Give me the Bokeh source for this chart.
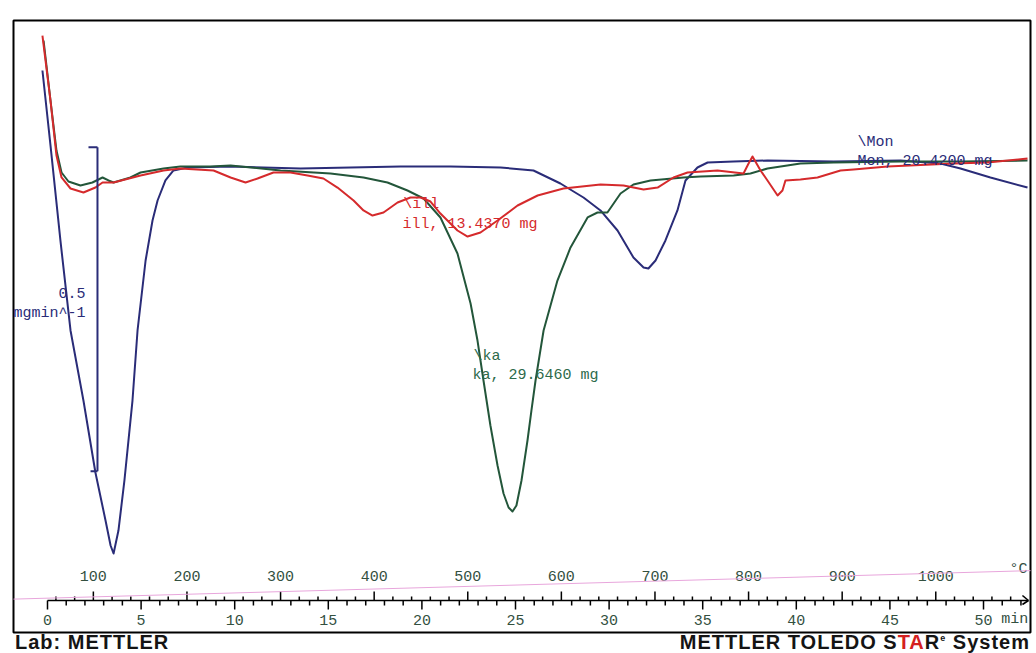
from bokeh.plotting import figure
from bokeh.models import Range1d, Slope, Div
from bokeh.layouts import column
from bokeh.embed import file_html
from bokeh.resources import INLINE
from bokeh.core.properties import value

# ---------------- data (time in min, DTG in mg/min) ----------------
mon_t = [-0.27, 0.16, 0.69, 1.23, 1.92, 2.56, 3.10, 3.37, 3.53, 3.79, 4.11, 4.54, 4.81,
         5.24, 5.61, 5.88, 6.30, 6.73, 7.48, 9.78, 13.51, 18.86, 21.53, 24.20, 25.96,
         27.40, 28.63, 29.54, 30.45, 31.30, 31.84, 32.10, 32.48, 33.01, 33.65, 34.08,
         34.72, 35.26, 36.65, 38.46, 41.99, 45.57, 47.70, 48.77, 50.37, 52.35]
mon_dtg = [0.1466, 0.0309, -0.1157, -0.2546, -0.3627, -0.4738, -0.5478, -0.5864, -0.5988,
           -0.5633, -0.4861, -0.3627, -0.2546, -0.1466, -0.0849, -0.0540, -0.0231, -0.0077,
           -0.0031, -0.0015, -0.0046, -0.0015, -0.0015, -0.0031, -0.0077, -0.0278, -0.0494,
           -0.0694, -0.1003, -0.1420, -0.1574, -0.1590, -0.1466, -0.1157, -0.0694, -0.0231,
           -0.0031, 0.0046, 0.0062, 0.0077, 0.0062, 0.0077, 0.0031, -0.0046, -0.0185, -0.0340]

ka_t = [-0.21, 0.16, 0.48, 0.75, 1.12, 1.76, 2.40, 2.94, 3.26, 3.53, 4.43, 4.97, 6.20,
        7.10, 8.71, 9.78, 12.45, 15.12, 16.88, 18.16, 19.23, 20.09, 20.99, 21.90, 22.60,
        22.97, 23.29, 23.66, 24.04, 24.36, 24.63, 24.84, 25.05, 25.32, 25.64, 25.85, 26.07,
        26.50, 27.24, 27.94, 28.85, 29.38, 29.91, 30.61, 31.30, 32.21, 33.97, 34.88, 36.65,
        37.55, 38.46, 40.22, 41.99, 45.57, 48.77, 52.35]
ka_dtg = [0.1929, 0.1003, 0.0231, -0.0108, -0.0247, -0.0309, -0.0262, -0.0185, -0.0231,
          -0.0262, -0.0185, -0.0108, -0.0046, -0.0015, -0.0015, 0.0000, -0.0077, -0.0123,
          -0.0185, -0.0262, -0.0386, -0.0509, -0.0802, -0.1358, -0.2130, -0.2701, -0.3318,
          -0.4012, -0.4630, -0.5062, -0.5278, -0.5340, -0.5247, -0.4861, -0.4244, -0.3781,
          -0.3318, -0.2546, -0.1775, -0.1265, -0.0802, -0.0725, -0.0725, -0.0432, -0.0293,
          -0.0231, -0.0185, -0.0170, -0.0154, -0.0123, -0.0046, 0.0031, 0.0046, 0.0062,
          0.0062, 0.0077]

ill_t = [-0.27, 0.16, 0.48, 0.75, 1.23, 1.92, 2.56, 2.94, 3.53, 4.97, 6.20, 7.10, 8.87,
         9.78, 10.58, 11.22, 12.07, 12.98, 13.89, 14.74, 15.49, 16.35, 16.88, 17.36, 17.95,
         18.70, 19.39, 19.93, 20.46, 20.99, 21.90, 22.44, 23.13, 24.04, 25.11, 26.18, 27.56,
         29.54, 30.77, 31.84, 32.59, 33.44, 34.19, 35.79, 37.18, 37.45, 37.66, 38.09, 38.46,
         39.00, 39.26, 39.42, 40.22, 41.13, 42.36, 43.06, 44.87, 48.40, 50.21, 52.35]
ill_dtg = [0.2006, 0.1003, 0.0154, -0.0185, -0.0355, -0.0417, -0.0340, -0.0262, -0.0262,
           -0.0154, -0.0077, -0.0046, -0.0077, -0.0185, -0.0262, -0.0201, -0.0108, -0.0108,
           -0.0154, -0.0201, -0.0340, -0.0540, -0.0694, -0.0772, -0.0725, -0.0571, -0.0494,
           -0.0494, -0.0556, -0.0741, -0.1003, -0.1096, -0.1034, -0.0849, -0.0617, -0.0463,
           -0.0355, -0.0293, -0.0309, -0.0370, -0.0340, -0.0185, -0.0108, -0.0077, -0.0123,
           0.0031, 0.0139, -0.0077, -0.0231, -0.0463, -0.0386, -0.0231, -0.0216, -0.0185,
           -0.0077, -0.0062, -0.0015, 0.0031, 0.0046, 0.0108]

# curve labels
label_names = ["\\Mon", "Mon, 20.4200 mg", "\\ill", "ill, 13.4370 mg", "\\ka", "ka, 29.6460 mg"]
label_t = [43.27, 43.27, 19.01, 18.96, 22.76, 22.70]
label_y = [0.0355, 0.0062, -0.0602, -0.0910, -0.2948, -0.3241]

# axes: time (min) and furnace temperature (deg C)
min_labels = [0, 5, 10, 15, 20, 25, 30, 35, 40, 45, 50]
temp_labels = [100, 200, 300, 400, 500, 600, 700, 800, 900, 1000]
T_START = 51.0     # deg C at t = 0
HEAT_RATE = 20.0   # K/min
T_END = 52.4       # end of time axis, min

# scale bar
SCALE_VALUE = 0.5          # mg/min
SCALE_TOP = 0.028
SCALE_T = 2.67

# ---------------- style ----------------
NAVY = "#2a2c78"
GREEN = "#23563a"
RED = "#d52a2c"
AXTXT = "#33503f"
MONO = value("Liberation Mono")
PX = 1 / 648.0             # mg/min per screen pixel
AXIS_Y = -0.6713

p = figure(width=1036, height=634, x_range=Range1d(-1.816, 52.51),
           y_range=Range1d(-0.72068, 0.22377), output_backend="svg",
           toolbar_location=None, x_axis_type=None, y_axis_type=None,
           min_border_left=13, min_border_right=6, min_border_top=20, min_border_bottom=2)
p.grid.visible = False
p.outline_line_color = "black"
p.outline_line_width = 2
p.background_fill_color = "white"
p.border_fill_color = "white"

# scanning stripe (faint pink)
p.add_layout(Slope(gradient=0.000809, y_intercept=-0.6677, line_color="#e8a6dc", line_width=1))

# curves
p.line(mon_t, mon_dtg, line_color=NAVY, line_width=2, line_join="round")
p.line(ka_t, ka_dtg, line_color=GREEN, line_width=2, line_join="round")
p.line(ill_t, ill_dtg, line_color=RED, line_width=2, line_join="round")

lab_colors = [NAVY, NAVY, RED, RED, "#2d6a4a", "#2d6a4a"]
p.text(x=label_t, y=label_y, text=label_names, text_font=MONO, text_font_size="15px",
       text_color=lab_colors, text_baseline="alphabetic", text_align="left")

# scale bar
sb_bot = SCALE_TOP - SCALE_VALUE
p.segment(x0=[SCALE_T, SCALE_T - 0.48, SCALE_T - 0.37], y0=[SCALE_TOP, SCALE_TOP, sb_bot],
          x1=[SCALE_T, SCALE_T, SCALE_T], y1=[sb_bot, SCALE_TOP, sb_bot],
          line_color=NAVY, line_width=2)
p.text(x=[2.03, 2.03], y=[-0.1975, -0.2284], text=[str(SCALE_VALUE), "mgmin^-1"],
       text_font=MONO, text_font_size="15px", text_color=NAVY,
       text_align="right", text_baseline="alphabetic")

# time axis line with arrow head
p.segment(x0=[0, T_END - 0.32, T_END - 0.32], y0=[AXIS_Y, AXIS_Y + 5 * PX, AXIS_Y - 4 * PX],
          x1=[T_END, T_END, T_END], y1=[AXIS_Y, AXIS_Y, AXIS_Y],
          line_color="black", line_width=1.6)

# minute ticks (down)
mt = list(range(0, 53))
p.segment(x0=mt, x1=mt, y0=[AXIS_Y] * len(mt),
          y1=[AXIS_Y - (9 if m % 5 == 0 else 5) * PX for m in mt],
          line_color="black", line_width=1.5)
p.text(x=min_labels, y=[AXIS_Y - 19 * PX] * len(min_labels), text=[str(m) for m in min_labels],
       text_font=MONO, text_font_size="15px", text_color=AXTXT,
       text_align="center", text_baseline="middle")
p.text(x=[50.95], y=[AXIS_Y - 19 * PX], text=["min"], text_font=MONO, text_font_size="15px",
       text_color=AXTXT, text_align="left", text_baseline="middle")

# temperature ticks (up)
tt = list(range(60, 1081, 20))
tt_t = [(T - T_START) / HEAT_RATE for T in tt]
p.segment(x0=tt_t, x1=tt_t, y0=[AXIS_Y] * len(tt),
          y1=[AXIS_Y + (9 if T % 100 == 0 else 4) * PX for T in tt],
          line_color="black", line_width=1.5)
p.text(x=[(T - T_START) / HEAT_RATE for T in temp_labels], y=[AXIS_Y + 25 * PX] * len(temp_labels),
       text=[str(T) for T in temp_labels], text_font=MONO, text_font_size="15px",
       text_color=AXTXT, text_align="center", text_baseline="middle")
p.text(x=[52.35], y=[AXIS_Y + 31 * PX], text=["\u00b0C"], text_font=MONO, text_font_size="15px",
       text_color=AXTXT, text_align="right", text_baseline="middle")

footer = Div(text=(
    '<div style="display:flex;justify-content:space-between;box-sizing:border-box;width:1036px;'
    'height:19px;padding:0 6px 0 15px;font-family:\'Liberation Sans\',Arial,sans-serif;'
    'font-weight:bold;font-size:20px;line-height:16px;color:#141414;white-space:nowrap;">'
    '<span style="letter-spacing:1px;">Lab: METTLER</span>'
    '<span style="letter-spacing:1px;">METTLER TOLEDO S<span style="color:#d42020;">TA</span>R'
    '<span style="font-size:9px;vertical-align:8px;line-height:0;">e</span> System</span></div>'),
    width=1036, height=19, styles={"margin": "0", "padding": "0"})

layout = column(p, footer, spacing=0)
open("out.html", "w").write(file_html(layout, INLINE))
